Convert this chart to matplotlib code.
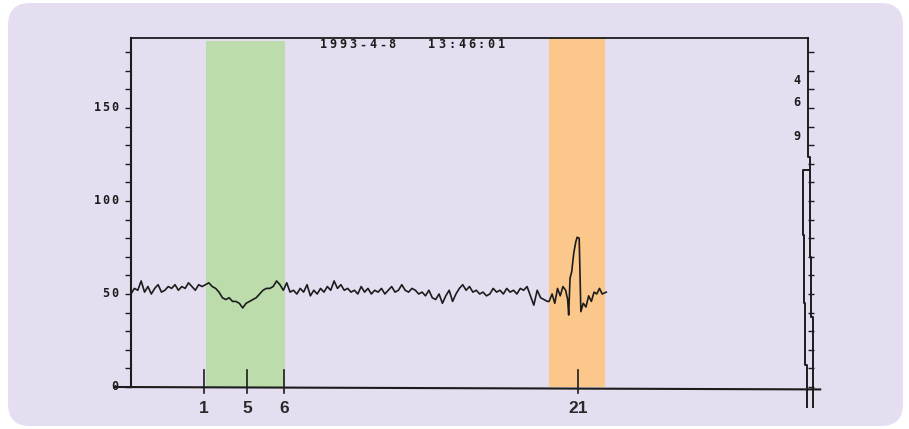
import matplotlib.pyplot as plt
import numpy as np
from matplotlib.patches import FancyBboxPatch
from matplotlib.transforms import IdentityTransform

# --- data (x in arbitrary chart units, 0 = left axis, 100 = right axis) ---
# trace sampled every 0.5 units from 0 to 61.5
base_y = [50, 53, 52, 57, 51, 54, 50, 53, 55, 51, 52, 54, 53, 55, 52, 54, 53, 56, 54, 52, 55, 54,
          55, 56, 54, 53, 51, 48, 47, 48, 46, 46, 45, 42.5, 45, 46, 47, 48, 50, 52, 53, 53, 54, 57, 55, 52,
          56, 51, 52, 50, 53, 51, 55, 49, 52, 50,
          53, 51, 54, 52, 57, 53, 55, 52, 53, 51,
          52, 50, 54, 51, 53, 50, 52, 51, 53, 50,
          52, 54, 51, 52, 55, 52, 51, 53, 52, 50,
          51, 49, 52, 48, 47, 50, 45, 49, 52, 46,
          50, 53, 55, 52, 54, 51, 52, 50, 51, 49,
          50, 53, 51, 52, 50, 53, 51, 52, 50, 53,
          52, 54, 49, 44, 52, 48, 47, 46]
base_x = np.arange(len(base_y)) * 0.5

# the burst inside the orange window
spike_x = [61.75, 62.2, 62.6, 63.0, 63.4, 63.8, 64.2, 64.5, 64.65, 64.85, 65.1, 65.4, 65.7,
           65.9, 66.2, 66.3, 66.45, 66.8, 67.2, 67.6, 68.0, 68.4, 68.8, 69.2, 69.6, 70.2]
spike_y = [46, 50, 45, 53, 49, 54, 52, 47, 38.7, 58.5, 62, 72, 78,
           80.5, 80, 64, 40.5, 45, 43, 49, 46, 51, 50, 53, 50, 51]

trace_x = np.concatenate([base_x, spike_x])
trace_y = np.concatenate([base_y, spike_y])

green_window = (11.1, 22.75)
orange_window = (61.74, 70.0)

event_x = [10.78, 17.13, 22.6, 66.03]
event_labels = ["1", "5", "6", "21"]

left_labels = ["0", "50", "100", "150"]
left_label_vals = [0, 50, 100, 150]
right_labels = ["4", "6", "9"]
right_label_vals = [165, 152.7, 134.4]
stamp = "1993-4-8   13:46:01"

# the two pen traces running down the right edge
pen_a_x = [100, 100, 100.3, 100.3, 100.45, 100.45, 100.75, 100.75]
pen_a_y = [187.6, 123.7, 123.7, 69.9, 69.9, 37.6, 37.6, -10.8]
pen_b_x = [100.1, 99.26, 99.26, 99.4, 99.4, 99.56, 99.56, 99.85, 99.85]
pen_b_y = [116.7, 116.7, 81.7, 81.7, 45.2, 45.2, 11.8, 11.8, -10.8]

# --- figure ---
bg = "#E4DEF0"
ink = "#1c1c1c"
fig = plt.figure(figsize=(9.09, 4.29), dpi=100)
fig.patch.set_facecolor("white")
fig.patches.append(FancyBboxPatch((8, 3), 895, 423, boxstyle="round,pad=0,rounding_size=22",
                                  transform=IdentityTransform(), facecolor=bg, edgecolor="none",
                                  zorder=-10))

ax = fig.add_axes([131 / 909, 42 / 429, 677 / 909, 349 / 429])
ax.set_facecolor("none")
ax.set_xlim(0, 100)
ax.set_ylim(0, 187.6)

ax.axvspan(*green_window, ymin=0, ymax=186 / 187.6, color="#BCDCAC", lw=0, zorder=1)
ax.axvspan(*orange_window, ymin=0, ymax=1, color="#FCC78A", lw=0, zorder=1)

ax.plot(trace_x, trace_y, color=ink, lw=1.2, zorder=3)

# spines / ticks
for side in ["bottom", "right"]:
    ax.spines[side].set_visible(False)
ax.spines["left"].set_linewidth(1.5)
ax.spines["top"].set_linewidth(1.3)
ax.spines["left"].set_color(ink)
ax.spines["top"].set_color(ink)
ax.set_xticks([])
ax.set_yticks(np.arange(0, 190, 10))
ax.set_yticklabels([])
ax.tick_params(axis="y", direction="out", length=4, width=1, color=ink, right=True)

# bottom baseline, slightly slanted like the scan
ax.plot([-2.4, 101.8], [0, -1.3], color=ink, lw=1.5, clip_on=False, zorder=4)
ax.plot(pen_a_x, pen_a_y, color=ink, lw=1.4, clip_on=False, zorder=4)
ax.plot(pen_b_x, pen_b_y, color=ink, lw=1.4, clip_on=False, zorder=4)


def spaced(x_first, y, s, step, **kw):
    for i, ch in enumerate(s):
        if ch != " ":
            ax.text(x_first + i * step, y, ch, ha="center", va="center", **kw)


mono = dict(family="DejaVu Sans Mono", color=ink, clip_on=False, fontweight="bold")
for lab, v in zip(left_labels, left_label_vals):
    step = 1.3
    spaced(-2.36 - (len(lab) - 1) * step, v, lab, step, fontsize=8.5, **mono)
for lab, v in zip(right_labels, right_label_vals):
    ax.text(98.4, v, lab, ha="center", va="center", fontsize=8.5, **mono)
spaced(28.36, 183.9, stamp, 1.462, fontsize=8.5, **mono)

# event markers below the baseline
for xv, lab in zip(event_x, event_labels):
    ax.plot([xv, xv], [9.1, -3.4], color=ink, lw=1.2, clip_on=False, zorder=4)
    ax.text(xv, -11.6, lab, ha="center", va="center", fontsize=12.5, fontweight="bold",
            family="Liberation Sans", color="#2a2a2a", clip_on=False)

fig.savefig("out.png", dpi=100, facecolor=fig.get_facecolor())
